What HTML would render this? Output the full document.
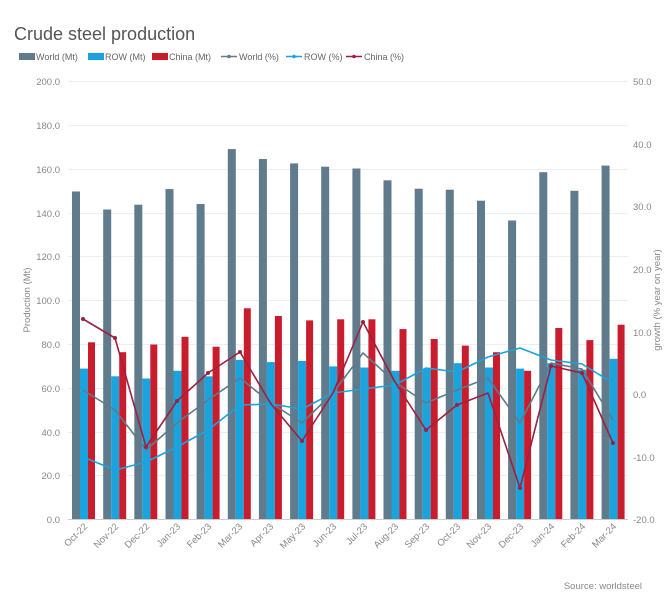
<!DOCTYPE html>
<html><head><meta charset="utf-8"><style>
body{margin:0;background:#fff;}
svg{display:block;font-family:"Liberation Sans",sans-serif;}
</style></head><body>
<svg width="672" height="607" viewBox="0 0 672 607">
<text x="14" y="40" font-size="18" fill="#555">Crude steel production</text>
<g font-size="9" fill="#666">
<rect x="19" y="53" width="16" height="7" fill="#5f7b8c"/><text x="36" y="60">World (Mt)</text>
<rect x="88" y="53" width="16" height="7" fill="#1aa3dc"/><text x="105" y="60">ROW (Mt)</text>
<rect x="152" y="53" width="16" height="7" fill="#c91d2e"/><text x="169" y="60">China (Mt)</text>
<line x1="221" y1="56.5" x2="237" y2="56.5" stroke="#5f7b8c" stroke-width="1.5"/><circle cx="229" cy="56.5" r="1.8" fill="#5f7b8c"/><text x="239" y="60">World (%)</text>
<line x1="286" y1="56.5" x2="302" y2="56.5" stroke="#1aa3dc" stroke-width="1.5"/><circle cx="294" cy="56.5" r="1.8" fill="#1aa3dc"/><text x="304" y="60">ROW (%)</text>
<line x1="346" y1="56.5" x2="362" y2="56.5" stroke="#9c2140" stroke-width="1.5"/><circle cx="354" cy="56.5" r="1.8" fill="#9c2140"/><text x="364" y="60">China (%)</text>
</g>
<g stroke="#eee" stroke-width="1">
<line x1="68" y1="81.5" x2="628" y2="81.5"/><line x1="68" y1="125.5" x2="628" y2="125.5"/><line x1="68" y1="169.5" x2="628" y2="169.5"/><line x1="68" y1="213.5" x2="628" y2="213.5"/><line x1="68" y1="256.5" x2="628" y2="256.5"/><line x1="68" y1="300.5" x2="628" y2="300.5"/><line x1="68" y1="344.5" x2="628" y2="344.5"/><line x1="68" y1="388.5" x2="628" y2="388.5"/><line x1="68" y1="432.5" x2="628" y2="432.5"/><line x1="68" y1="475.5" x2="628" y2="475.5"/>
</g>
<line x1="68" y1="519.5" x2="628" y2="519.5" stroke="#ccc"/>
<g font-size="9.5" fill="#888" text-anchor="end">
<text x="60" y="85">200.0</text><text x="60" y="129">180.0</text><text x="60" y="173">160.0</text><text x="60" y="217">140.0</text><text x="60" y="260">120.0</text><text x="60" y="304">100.0</text><text x="60" y="348">80.0</text><text x="60" y="392">60.0</text><text x="60" y="436">40.0</text><text x="60" y="479">20.0</text><text x="60" y="523">0.0</text>
</g>
<g font-size="9.5" fill="#888">
<text x="633" y="85">50.0</text><text x="633" y="148">40.0</text><text x="633" y="210">30.0</text><text x="633" y="273">20.0</text><text x="633" y="336">10.0</text><text x="633" y="398">0.0</text><text x="633" y="461">-10.0</text><text x="633" y="523">-20.0</text>
</g>
<text transform="translate(30,300) rotate(-90)" font-size="9.5" fill="#888" text-anchor="middle">Production (Mt)</text>
<text transform="translate(660,300) rotate(-90)" font-size="9.5" fill="#888" text-anchor="middle">growth (% year on year)</text>
<g fill="#5f7b8c">
<rect x="72" y="191.5" width="8" height="327.5"/><rect x="103.2" y="209.5" width="8" height="309.5"/><rect x="134.3" y="204.7" width="8" height="314.3"/><rect x="165.5" y="189.1" width="8" height="329.9"/><rect x="196.6" y="204" width="8" height="315"/><rect x="227.8" y="149.1" width="8" height="369.9"/><rect x="258.9" y="159" width="8" height="360"/><rect x="290.1" y="163.4" width="8" height="355.6"/><rect x="321.2" y="166.7" width="8" height="352.3"/><rect x="352.4" y="168.5" width="8" height="350.5"/><rect x="383.5" y="180.3" width="8" height="338.7"/><rect x="414.7" y="188.7" width="8" height="330.3"/><rect x="445.8" y="189.7" width="8" height="329.3"/><rect x="477" y="200.7" width="8" height="318.3"/><rect x="508.1" y="220.5" width="8" height="298.5"/><rect x="539.3" y="172.2" width="8" height="346.8"/><rect x="570.4" y="190.8" width="8" height="328.2"/><rect x="601.6" y="165.6" width="8" height="353.4"/>
</g>
<g fill="#1aa3dc">
<rect x="80" y="368.6" width="8" height="150.4"/><rect x="111.2" y="376.3" width="8" height="142.7"/><rect x="142.3" y="378.5" width="8" height="140.5"/><rect x="173.5" y="370.8" width="8" height="148.2"/><rect x="204.6" y="376.3" width="8" height="142.7"/><rect x="235.8" y="359.9" width="8" height="159.1"/><rect x="266.9" y="362.1" width="8" height="156.9"/><rect x="298.1" y="361" width="8" height="158"/><rect x="329.2" y="366.4" width="8" height="152.6"/><rect x="360.4" y="367.5" width="8" height="151.5"/><rect x="391.5" y="370.8" width="8" height="148.2"/><rect x="422.7" y="368.6" width="8" height="150.4"/><rect x="453.8" y="363.2" width="8" height="155.8"/><rect x="485" y="367.5" width="8" height="151.5"/><rect x="516.1" y="368.6" width="8" height="150.4"/><rect x="547.3" y="363.2" width="8" height="155.8"/><rect x="578.4" y="369.7" width="8" height="149.3"/><rect x="609.6" y="358.8" width="8" height="160.2"/>
</g>
<g fill="#c91d2e">
<rect x="88" y="342.3" width="7" height="176.7"/><rect x="119.2" y="352.2" width="7" height="166.8"/><rect x="150.3" y="344.5" width="7" height="174.5"/><rect x="181.5" y="336.8" width="7" height="182.2"/><rect x="212.6" y="346.7" width="7" height="172.3"/><rect x="243.8" y="308.3" width="7" height="210.7"/><rect x="274.9" y="316" width="7" height="203"/><rect x="306.1" y="320.4" width="7" height="198.6"/><rect x="337.2" y="319.3" width="7" height="199.7"/><rect x="368.4" y="319.3" width="7" height="199.7"/><rect x="399.5" y="329.1" width="7" height="189.9"/><rect x="430.7" y="339" width="7" height="180"/><rect x="461.8" y="345.6" width="7" height="173.4"/><rect x="493" y="352.2" width="7" height="166.8"/><rect x="524.1" y="370.8" width="7" height="148.2"/><rect x="555.3" y="328" width="7" height="191"/><rect x="586.4" y="340.1" width="7" height="178.9"/><rect x="617.6" y="324.7" width="7" height="194.3"/>
</g>
<g fill="none" stroke-width="1.6" stroke-linejoin="round">
<polyline stroke="#5f7b8c" points="83,390 115,410 146,450 177,423 208,400 240,378 271,403 302,423 333,393 363,353 395,382 426,403 457,390 488,378 520,423 551,363 582,369 613,420"/>
<polyline stroke="#1aa3dc" points="83,457 115,470 146,462 177,447 208,430 240,405 271,404 302,409 333,393 363,389 395,385 426,368 457,372 488,357 520,348 551,360 582,364 613,383"/>
<polyline stroke="#9c2140" points="83,319 115,338 146,447 177,401 208,373 240,352 271,404 302,441 333,393 363,322 395,382 426,430 457,405 488,393 520,488 551,366 582,373 613,443"/>
</g>
<g fill="#9c2140">
<circle cx="83" cy="319" r="2"/><circle cx="115" cy="338" r="2"/><circle cx="146" cy="447" r="2"/><circle cx="177" cy="401" r="2"/><circle cx="208" cy="373" r="2"/><circle cx="240" cy="352" r="2"/><circle cx="302" cy="441" r="2"/><circle cx="363" cy="322" r="2"/><circle cx="426" cy="430" r="2"/><circle cx="457" cy="405" r="2"/><circle cx="520" cy="488" r="2"/><circle cx="551" cy="366" r="2"/><circle cx="582" cy="373" r="2"/><circle cx="613" cy="443" r="2"/>
</g>
<g font-size="9.5" fill="#888" text-anchor="end">
<text transform="translate(88,527) rotate(-45)">Oct-22</text><text transform="translate(119,527) rotate(-45)">Nov-22</text><text transform="translate(150,527) rotate(-45)">Dec-22</text><text transform="translate(181,527) rotate(-45)">Jan-23</text><text transform="translate(212,527) rotate(-45)">Feb-23</text><text transform="translate(243,527) rotate(-45)">Mar-23</text><text transform="translate(274,527) rotate(-45)">Apr-23</text><text transform="translate(306,527) rotate(-45)">May-23</text><text transform="translate(337,527) rotate(-45)">Jun-23</text><text transform="translate(368,527) rotate(-45)">Jul-23</text><text transform="translate(399,527) rotate(-45)">Aug-23</text><text transform="translate(430,527) rotate(-45)">Sep-23</text><text transform="translate(461,527) rotate(-45)">Oct-23</text><text transform="translate(492,527) rotate(-45)">Nov-23</text><text transform="translate(524,527) rotate(-45)">Dec-23</text><text transform="translate(555,527) rotate(-45)">Jan-24</text><text transform="translate(586,527) rotate(-45)">Feb-24</text><text transform="translate(617,527) rotate(-45)">Mar-24</text>
</g>
<text x="642" y="589" font-size="9.5" fill="#888" text-anchor="end">Source: worldsteel</text>
</svg>
</body></html>
